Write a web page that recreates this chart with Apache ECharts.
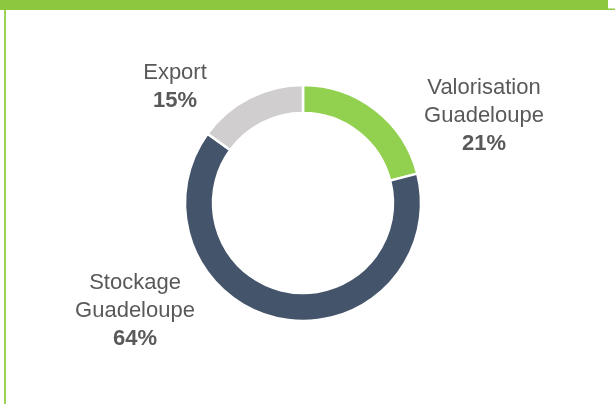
<!DOCTYPE html>
<html>
<head>
<meta charset="utf-8">
<script src="https://cdn.jsdelivr.net/npm/echarts@6/dist/echarts.min.js"></script>
<style>
  html, body { margin: 0; padding: 0; background: #ffffff; }
  #chart { width: 615px; height: 404px; }
</style>
</head>
<body>
<div id="chart"></div>
<script>
// Destination of the waste streams, share in percent
const categories = ['Valorisation\nGuadeloupe', 'Stockage\nGuadeloupe', 'Export'];
const shares = [21, 64, 15];
const colors = ['#92D050', '#44546A', '#D0CECE'];
const titleText = 'Répartition par exutoire des déchets de Guadeloupe (en tonnes/an)';

// label anchor points (layout only)
const labelSpots = [
  { x: 484, y: 116 },
  { x: 135, y: 311 },
  { x: 175, y: 87 }
];

const chart = echarts.init(document.getElementById('chart'), null, { renderer: 'canvas' });

const data = categories.map((name, i) => ({
  name: name,
  value: shares[i],
  itemStyle: { color: colors[i] }
}));

chart.setOption({
  backgroundColor: '#ffffff',
  animation: false,
  graphic: [
    // green header band
    { type: 'rect', shape: { x: 0, y: 0, width: 608, height: 10 }, style: { fill: '#8DC63F' }, z: 10 },
    { type: 'rect', shape: { x: 608, y: 8.5, width: 7, height: 1.5 }, style: { fill: '#8DC63F' }, z: 10 },
    // left frame line
    { type: 'rect', shape: { x: 4, y: 10, width: 2, height: 394 }, style: { fill: '#9BD155' }, z: 10 },
    // header title, mostly above the visible area
    {
      type: 'text', left: 22, top: -16, z: 11,
      style: { text: titleText, fill: '#ffffff', font: '16px "Liberation Sans", Arial, sans-serif' }
    }
  ],
  series: [{
    type: 'pie',
    center: [303, 203],
    radius: [90, 118],
    startAngle: 90,
    clockwise: true,
    avoidLabelOverlap: false,
    itemStyle: { borderColor: '#ffffff', borderWidth: 2.5 },
    label: {
      show: true,
      position: 'outside',
      fontFamily: '"Liberation Sans", Arial, sans-serif',
      formatter: function (p) {
        const lines = p.name.split('\n').map(l => '{n|' + l + '}');
        lines.push('{p|' + p.value + '%}');
        return lines.join('\n');
      },
      rich: {
        n: { fontSize: 22, color: '#595959', lineHeight: 28, fontFamily: '"Liberation Sans", Arial, sans-serif', align: 'center' },
        p: { fontSize: 22, color: '#595959', lineHeight: 28, fontWeight: 'bold', fontFamily: '"Liberation Sans", Arial, sans-serif', align: 'center' }
      }
    },
    labelLine: { show: false },
    labelLayout: function (params) {
      const s = labelSpots[params.dataIndex];
      return { x: s.x, y: s.y, align: 'center', verticalAlign: 'middle' };
    },
    emphasis: { disabled: true },
    data: data
  }]
});
</script>
</body>
</html>
